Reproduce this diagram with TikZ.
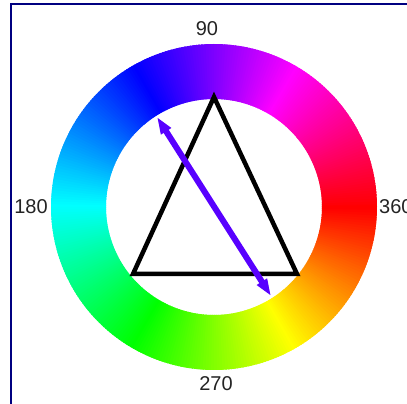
\documentclass[tikz,border=0pt]{standalone}
\usepackage{fontspec}
\setmainfont{Liberation Sans}
\usetikzlibrary{arrows.meta}

\definecolor{framenavy}{RGB}{0,0,128}
\definecolor{arrowviolet}{RGB}{88,0,255}
\definecolor{labelgray}{RGB}{35,35,35}

\begin{document}
\begin{tikzpicture}[
  x=1pt, y=1pt,
  frame/.style={draw=framenavy, line width=2pt},
  anglelabel/.style={font=\fontsize{20}{20}\selectfont, text=labelgray, inner sep=0pt},
  tri/.style={draw=black, line width=4.5pt, line join=miter},
  harrow/.style={{Triangle[length=17pt,width=11pt]}-{Triangle[length=17pt,width=11pt]}, draw=arrowviolet, line width=6pt}
]
\useasboundingbox (0,0) rectangle (407,404);

%% Frame
\draw[frame] (11,0) -- (11,400) -- (407,400);

%% Angle labels
\node[anglelabel] (l90)  at (207,375) {90};
\node[anglelabel] (l180) at (31,197)  {180};
\node[anglelabel, anchor=west] (l360) at (379,197) {360};
\node[anglelabel] (l270) at (216,20)  {270};

%% Hue ring
\coordinate (c) at (214,197);
\foreach \a in {0,...,359}{
  \pgfmathtruncatemacro{\hue}{359-\a}
  \definecolor{seg}{Hsb}{\hue,1,1}
  \fill[seg, shift={(c)}] (\a:163pt) arc[start angle=\a, end angle=\a+1.6, radius=163pt]
    -- (\a+1.6:108pt) arc[start angle=\a+1.6, end angle=\a, radius=108pt] -- cycle;
}

%% Triangle
\coordinate (apex) at (214,307);
\coordinate (bl) at (133,130);
\coordinate (br) at (297,130);
\draw[tri] (apex) -- (bl) -- (br) -- cycle;

%% Double arrow
\coordinate (tipa) at (157,287);
\coordinate (tipb) at (271,108);
\draw[harrow] (tipa) -- (tipb);
\end{tikzpicture}
\end{document}
